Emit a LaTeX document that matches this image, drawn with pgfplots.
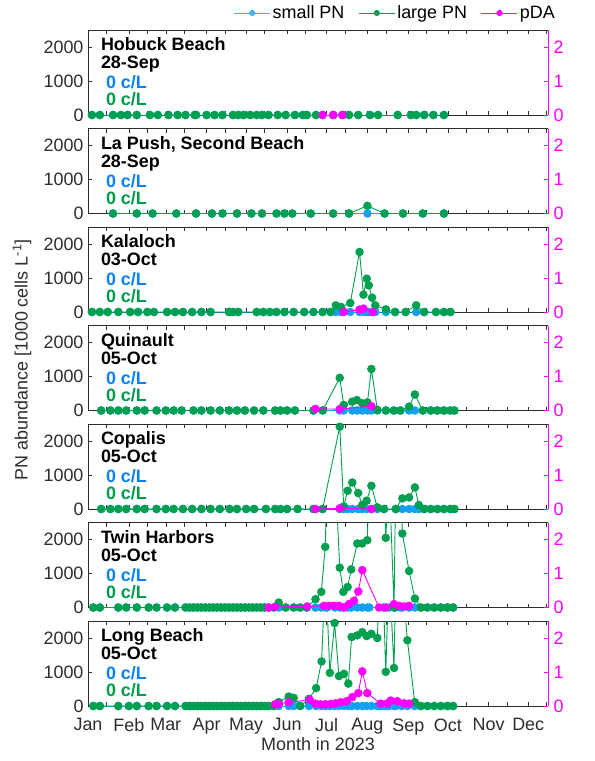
\documentclass[border=0pt]{standalone}
\usepackage{fontspec}
\setmainfont{Liberation Sans}
\usepackage{pgfplots}
\usepackage{pgfplotstable}
\pgfplotsset{compat=1.18}

\definecolor{smallpn}{RGB}{20,160,240}
\definecolor{largepn}{RGB}{0,160,80}
\definecolor{pda}{RGB}{255,0,255}
\definecolor{axgray}{RGB}{45,45,45}
\definecolor{txtblue}{RGB}{10,130,245}
\definecolor{txtgreen}{RGB}{0,155,75}

\newcommand{\fs}{\fontsize{18}{21}\selectfont}

\pgfplotsset{
  base/.style={scale only axis, width=460bp, height=85bp, xmin=0, xmax=349,
    xtick={0,31,59,90,120,151,181,212,243,273,304,334},
    minor xtick={14,45,73,104,134,165,195,226,257,287,318,348},
    tick align=inside, major tick length=4bp, minor tick length=4bp,
    font=\fs,
    /pgf/number format/assume math mode=true,
    /pgf/number format/1000 sep={},
    scaled y ticks=false},
  leftax/.style={base, ymin=0, ymax=2500, ytick={0,1000,2000},
    axis y line*=left, xticklabels={},
    axis line style={axgray, line width=0.5pt},
    tick style={axgray, line width=0.5pt},
    ticklabel style={text=axgray},
    yticklabel style={xshift=-1bp},
    xticklabel style={yshift=-9bp}},
  rightax/.style={base, ymin=0, ymax=2.5, ytick={0,1,2},
    axis y line*=right, axis x line=none,
    y axis line style={pda, line width=0.5pt},
    ytick style={pda, line width=0.5pt},
    yticklabel style={text=pda, xshift=2bp}},
  spn/.style={smallpn, mark=*, mark size=3.8pt, line width=0.9pt},
  lpn/.style={largepn, mark=*, mark size=3.8pt, line width=0.9pt},
  pdaplot/.style={pda, mark=*, mark size=3.8pt, line width=0.9pt},
}

% columns: day of 2023 (0 = 1 Jan), small PN, large PN (1000 cells/L)
\pgfplotstableread{
d s l
3 0 0
9 0 0
19 0 0
25 0 0
30 0 0
37 0 0
47 0 0
53 0 0
61 0 0
68 0 0
74 0 0
81 0 0
82 0 0
90 0 0
96 0 0
102 0 0
110 0 0
114 0 0
118 0 0
123 0 0
128 0 0
132 0 0
137 0 0
144 0 0
150 0 0
157 0 0
163 0 0
166 0 0
173 0 0
178 0 0
186 0 0
193 0 0
198 0 0
205 0 0
214 0 0
220 0 0
235 0 0
245 0 0
249 0 0
255 0 0
262 0 0
270 0 0
}\hobuck
\pgfplotstableread{
d p
178 0
186 0
193 0
}\hobuckp

\pgfplotstableread{
d s l
19 0 0
37 0 0
49 0 0
67 0 0
82 0 0
94 0 0
102 0 0
113 0 0
124 0 0
132 0 0
143 0 0
149 0 0
155 0 0
169 0 0
186 0 0
198 0 0
212 0 225
225 0 0
239 0 0
254 0 0
270 0 0
}\lapush

\pgfplotstableread{
d s l
3 0 0
9 0 0
15 0 0
23 0 0
32 0 0
38 0 0
45 0 0
50 0 0
60 0 0
66 0 0
72 0 0
79 0 0
86 0 0
93 0 0
107 0 0
110 0 0
114 0 0
128 0 0
133 0 0
138 0 0
143 0 0
149 0 0
156 0 0
164 0 0
171 0 0
178 0 0
184 0 0
188 0 196
192 0 147
199 0 265
206 0 1765
209 0 510
211.5 0 980
213 0 784
215.5 0 422
218 0 196
226 0 78
233 0 0
241 0 0
249 0 196
255 0 0
264 0 0
270 0 0
275 0 0
}\kalaloch
\pgfplotstableread{
d p
194 0
206 0.07
209 0.1
216 0
}\kalalochp

\pgfplotstableread{
d s l
10 0 0
17 0 0
23 0 0
29 0 0
37 0 0
43 0 0
52 0 0
59 0 0
65 0 0
71 0 0
80 0 0
86 0 0
93 0 0
100 0 0
107 0 0
113 0 0
119 0 0
126 0 0
133 0 0
142 0 0
146 0 0
151 0 0
157 0 0
171 0 0
178 0 0
191 0 962
194 0 163
200.5 0 260
204 0 308
208 0 212
212 0 240
215 0 1221
219.5 0 20
226 0 0
232 0 0
237 0 0
243.6 0 115
248 0 471
254 0 0
260 0 0
265 0 0
270 0 0
275 0 0
278 0 0
}\quinault
\pgfplotstableread{
d p
172.6 0.05
191 0.04
215 0.13
}\quinaultp

\pgfplotstableread{
d s l
10 0 0
17 0 0
23 0 0
29 0 0
37 0 0
43 0 0
52 0 0
59 0 0
65 0 0
72 0 0
79 0 0
86 0 0
93 0 0
100 0 0
107.5 0 0
113 0 0
120 0 0
126 0 0
135 0 0
142 0 0
146 0 0
151 0 0
159 0 0
171 0 0
178 0 0
191 0 2420
194 0 78
197 0 537
200.5 0 780
205 0 468
208 0 117
211.4 0 244
215 0 683
219.5 0 49
224.6 0 0
233.5 0 0
238.5 0 312
243.6 0 341
248 0 634
251 0 117
255 0 0
260 0 0
265 0 0
270 0 0
275 0 0
278 0 0
}\copalis
\pgfplotstableread{
d p
172.6 0
191 0.02
215 0
}\copalisp

\pgfplotstableread{
d s l
4 0 0
9 0 0
23 0 0
29 0 0
37 0 0
46 0 0
52 0 0
60 0 0
66 0 0
74 0 0
77 0 0
80 0 0
83 0 0
86 0 0
89 0 0
92 0 0
95 0 0
98 0 0
101 0 0
104 0 0
107 0 0
110 0 0
113 0 0
116 0 0
119 0 0
122 0 0
125 0 0
128 0 0
131 0 0
134 0 0
137 0 0
141 0 0
144.7 0 146
150 0 0
156 0 0
161 0 0
166 0 0
172.6 0 244
177 0 459
180 0 1785
181.5 0 4000
187.5 0 4000
191 0 1171
193.7 0 459
197 0 605
199.7 0 1122
204.3 0 1883
208 0 1883
211.9 0 1980
213.5 0 4000
224 0 4000
225.9 0 2049
228.4 0 4000
232.2 0 0
233.5 0 4000
237 0 4000
238.5 0 2176
243.6 0 1073
248 0 263
252.5 0 0
257.5 0 0
262.6 0 0
267.7 0 0
272.7 0 0
277 0 0
}\twin
\pgfplotstableread{
d p
137 0
142 0.02
166.3 0.03
179 0.05
182.8 0.05
186.6 0.05
190.4 0.05
194.2 0
198 0.1
201.8 0.2
205.1 0.47
208.1 1.1
220.8 0
225.9 0
232.2 0.1
236 0.05
239.8 0.03
243.6 0.05
}\twinp

\pgfplotstableread{
d s l
4 0 0
9 0 0
23 0 0
31 0 0
37 0 0
46 0 0
52 0 0
60 0 0
66 0 0
74 0 0
77 0 0
80 0 0
83 0 0
86 0 0
89 0 0
92 0 0
95 0 0
98 0 0
101 0 0
104 0 0
107 0 0
110 0 0
113 0 0
116 0 0
119 0 0
122 0 0
125 0 0
128 0 0
131 0 0
134 0 0
137 0 0
141 0 0
144.7 0 115
152.3 0 278
156.1 0 240
161 0 0
167.6 0 210
173.1 0 526
177.2 0 1311
180.2 0 4000
183.5 0 976
187.1 0 2440
190.4 0 880
194.2 0 947
197.5 0 660
200 0 2029
204.3 0 2077
208.1 0 2172
211.4 0 2057
215 0 2124
219.5 0 2000
221.5 0 4000
223.5 0 4000
225.9 0 1005
228.4 0 4000
232.2 0 1120
233.5 0 4000
238 0 4000
242.3 0 1933
247.9 0 115
252.5 0 0
257.5 0 0
262.6 0 0
267.7 0 0
272.7 0 0
277 0 0
}\longbeach
\pgfplotstableread{
d p
142 0.05
144.7 0.06
152.3 0.11
168.3 0.18
172.6 0.07
176.4 0.05
180.2 0.05
184 0.06
187.8 0.08
191.6 0.11
196.2 0.14
200.5 0.26
205.1 0.38
208.1 1.02
211.9 0.38
222 0.07
227.1 0.08
229.7 0.16
234.7 0.14
239.8 0.08
243.6 0.07
}\longbeachp

% left axis of one panel: #1 row, #2 table, #3 site, #4 date, #5 extra options
\newcommand{\panel}[5]{%
\begin{axis}[leftax, at={(0bp,-#1*98.5bp)}, anchor=north west, #5]
  \addplot[spn] table[x=d,y=s]{#2};
  \addplot[largepn, line width=0.9pt, no marks] table[x=d,y=l]{#2};
  \addplot[lpn, only marks, restrict y to domain=-100:2600] table[x=d,y=l]{#2};
  \node[anchor=base west, font=\fs\bfseries] at ([xshift=9.5bp,yshift=-20.5bp]rel axis cs:0,1) {#3};
  \node[anchor=base west, font=\fs\bfseries] at ([xshift=9.5bp,yshift=-38.5bp]rel axis cs:0,1) {#4};
  \node[anchor=base west, text=txtblue, font=\fs\bfseries] at ([xshift=14.5bp,yshift=-58.5bp]rel axis cs:0,1) {0 c/L};
  \node[anchor=base west, text=txtgreen, font=\fs\bfseries] at ([xshift=14.5bp,yshift=-75.5bp]rel axis cs:0,1) {0 c/L};
\end{axis}}

\begin{document}
\begin{tikzpicture}
\path[use as bounding box] (-88bp,-731bp) rectangle (507bp,30bp);

\panel{0}{\hobuck}{Hobuck Beach}{28-Sep}{}
\begin{axis}[rightax, at={(0bp,0bp)}, anchor=north west,
    legend columns=3,
    legend style={at={(axis description cs:0.668,1.2)}, anchor=center,
      draw=none, fill=none, font=\fs,
      /tikz/every even column/.append style={column sep=12bp}},
    legend image code/.code={\draw[#1] (0bp,0bp) -- (36bp,0bp); \fill[#1] (18bp,0bp) circle (2.6bp);}]
  \addlegendimage{smallpn!80, line width=0.9pt}
  \addlegendentry{small PN}
  \addlegendimage{largepn, line width=0.9pt}
  \addlegendentry{large PN}
  \addlegendimage{pda, line width=0.9pt}
  \addlegendentry{pDA}
  \addplot[pdaplot] table[x=d,y=p]{\hobuckp};
\end{axis}

\panel{1}{\lapush}{La Push, Second Beach}{28-Sep}{}
\begin{axis}[rightax, at={(0bp,-98.5bp)}, anchor=north west]
\end{axis}

\panel{2}{\kalaloch}{Kalaloch}{03-Oct}{}
\begin{axis}[rightax, at={(0bp,-197bp)}, anchor=north west]
  \addplot[pdaplot] table[x=d,y=p]{\kalalochp};
\end{axis}

\panel{3}{\quinault}{Quinault}{05-Oct}{}
\begin{axis}[rightax, at={(0bp,-295.5bp)}, anchor=north west]
  \addplot[pdaplot] table[x=d,y=p]{\quinaultp};
\end{axis}

\panel{4}{\copalis}{Copalis}{05-Oct}{}
\begin{axis}[rightax, at={(0bp,-394bp)}, anchor=north west]
  \addplot[pdaplot] table[x=d,y=p]{\copalisp};
\end{axis}

\panel{5}{\twin}{Twin Harbors}{05-Oct}{}
\begin{axis}[rightax, at={(0bp,-492.5bp)}, anchor=north west]
  \addplot[pdaplot] table[x=d,y=p]{\twinp};
\end{axis}

\panel{6}{\longbeach}{Long Beach}{05-Oct}{xticklabels={Jan,Feb,Mar,Apr,May,Jun,Jul,Aug,Sep,Oct,Nov,Dec}}
\begin{axis}[rightax, at={(0bp,-591bp)}, anchor=north west]
  \addplot[pdaplot] table[x=d,y=p]{\longbeachp};
\end{axis}

\node[rotate=90, text=axgray, font=\fs] at (-66bp,-330bp) {PN abundance [1000 cells L\textsuperscript{-1}]};
\node[anchor=base, text=axgray, font=\fs] at (230bp,-720bp) {Month in 2023};
\end{tikzpicture}
\end{document}
